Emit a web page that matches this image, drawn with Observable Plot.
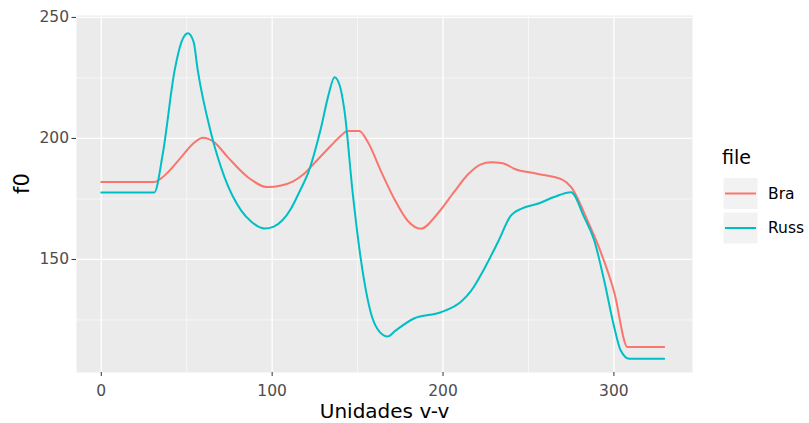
<!DOCTYPE html>
<html>
<head>
<meta charset="utf-8">
<script src="https://cdn.jsdelivr.net/npm/d3@7"></script>
<script src="https://cdn.jsdelivr.net/npm/@observablehq/plot@0.6"></script>
<style>
  html, body { margin: 0; padding: 0; background: #ffffff; }
  #chart { width: 809px; height: 423px; }
</style>
</head>
<body>
<div id="chart"></div>
<script>
// ---- data ----
const seriesNames = ["Bra", "Russ"];
const seriesColors = ["#F8766D", "#00BFC4"];

const braX  = [0, 31, 35, 39, 46.8, 54, 59.5, 66, 74, 85.8, 97.5, 105.3, 112, 118, 124.6, 134.5, 140.4, 144, 151, 156, 164, 171.5, 179.3, 187, 196.9, 206.6, 214.4, 222.2, 228, 235, 241.6, 255, 270, 275, 284.6, 290.4, 300.2, 308, 329.4];
const braF0 = [182, 182, 183.5, 186, 192.3, 198, 200.3, 198.5, 192.3, 184, 179.9, 180.6, 182.2, 185, 189.7, 197.1, 201.2, 203.1, 203.1, 198.5, 186, 175, 166, 162.7, 169, 178, 185, 189.3, 190.2, 189.8, 187.5, 185.4, 182.9, 179.9, 166, 156.5, 136.5, 113.8, 113.8];

const russX  = [0, 31, 36, 42.9, 47, 50.7, 54, 56.5, 64.3, 72.1, 81.9, 88, 95.4, 101, 106, 111, 116, 121.6, 128.7, 133, 136.5, 139.5, 142.3, 147.2, 152, 157.9, 163, 167.6, 172, 183, 198.8, 210.5, 216.4, 224, 232, 239.8, 246, 255.4, 265, 274.9, 282.6, 288.5, 294.3, 300.2, 304, 309, 329.4];
const russF0 = [177.7, 177.7, 193.7, 228, 240, 243.5, 240, 228, 202, 184, 170.2, 165.5, 162.8, 163.6, 166.2, 171, 178, 186.8, 204.7, 218, 225.3, 222, 211.6, 177.1, 149.6, 127.6, 120, 118.2, 120.5, 125.6, 128.2, 132.5, 137, 146, 157, 168.2, 171, 173, 175.8, 177.8, 167.5, 157.9, 141.3, 122, 112.4, 109, 109];

const xTicks = [0, 100, 200, 300];
const xMinor = [50, 150, 250];
const yTicks = [150, 200, 250];
const yMinor = [125, 175, 225];

const xTitle = "Unidades v-v";
const yTitle = "f0";
const legendTitle = "file";

// ---- build table ----
const rows = [];
braX.forEach((x, i) => rows.push({file: "Bra", x, f0: braF0[i]}));
russX.forEach((x, i) => rows.push({file: "Russ", x, f0: russF0[i]}));

const font = "DejaVu Sans, Liberation Sans, sans-serif";

const svg = Plot.plot({
  width: 809,
  height: 423,
  marginLeft: 76,
  marginRight: 117,
  marginTop: 15,
  marginBottom: 51,
  style: {fontFamily: font, background: "#ffffff"},
  x: {domain: [-14.5, 346], axis: null},
  y: {domain: [103.3, 250.8], axis: null},
  color: {domain: seriesNames, range: seriesColors},
  marks: [
    Plot.frame({fill: "#EBEBEB", stroke: "none"}),
    Plot.gridX(xMinor, {stroke: "#ffffff", strokeOpacity: 1, strokeWidth: 0.6}),
    Plot.gridY(yMinor, {stroke: "#ffffff", strokeOpacity: 1, strokeWidth: 0.6}),
    Plot.gridX(xTicks, {stroke: "#ffffff", strokeOpacity: 1, strokeWidth: 1.3}),
    Plot.gridY(yTicks, {stroke: "#ffffff", strokeOpacity: 1, strokeWidth: 1.3}),
    Plot.axisX(xTicks, {tickSize: 4, tickPadding: 8, fontSize: 15.5, stroke: "#333333", fill: "#4D4D4D", label: null}),
    Plot.axisY(yTicks, {tickSize: 4.5, tickPadding: 3, fontSize: 15.5, stroke: "#333333", fill: "#4D4D4D", label: null}),
    Plot.line(rows, {x: "x", y: "f0", z: "file", stroke: "file", strokeWidth: 2, curve: "monotone-x"}),
    Plot.text([xTitle], {text: d => d, frameAnchor: "bottom", dy: 45, fontSize: 20, fill: "#000000"}),
    Plot.text([yTitle], {text: d => d, frameAnchor: "left", dx: -54, rotate: -90, fontSize: 21, fill: "#000000"})
  ]
});

// ---- legend (ggplot style) ----
const g = d3.select(svg).append("g")
  .attr("font-family", font)
  .attr("text-anchor", "start");
g.append("text")
  .attr("x", 722).attr("y", 164)
  .attr("text-anchor", "start")
  .attr("font-size", 19).attr("fill", "#000000")
  .text(legendTitle);
const keyY = [193.5, 228];
seriesNames.forEach((name, i) => {
  g.append("rect")
    .attr("x", 723).attr("y", keyY[i] - 16)
    .attr("width", 35).attr("height", 32)
    .attr("fill", "#F2F2F2").attr("stroke", "#ffffff");
  g.append("line")
    .attr("x1", 725).attr("x2", 756)
    .attr("y1", keyY[i]).attr("y2", keyY[i])
    .attr("stroke", seriesColors[i]).attr("stroke-width", 2);
  g.append("text")
    .attr("x", 768).attr("y", keyY[i])
    .attr("dy", "0.35em")
    .attr("text-anchor", "start")
    .attr("font-size", 15.5).attr("fill", "#000000")
    .text(name);
});

document.getElementById("chart").appendChild(svg);
</script>
</body>
</html>
